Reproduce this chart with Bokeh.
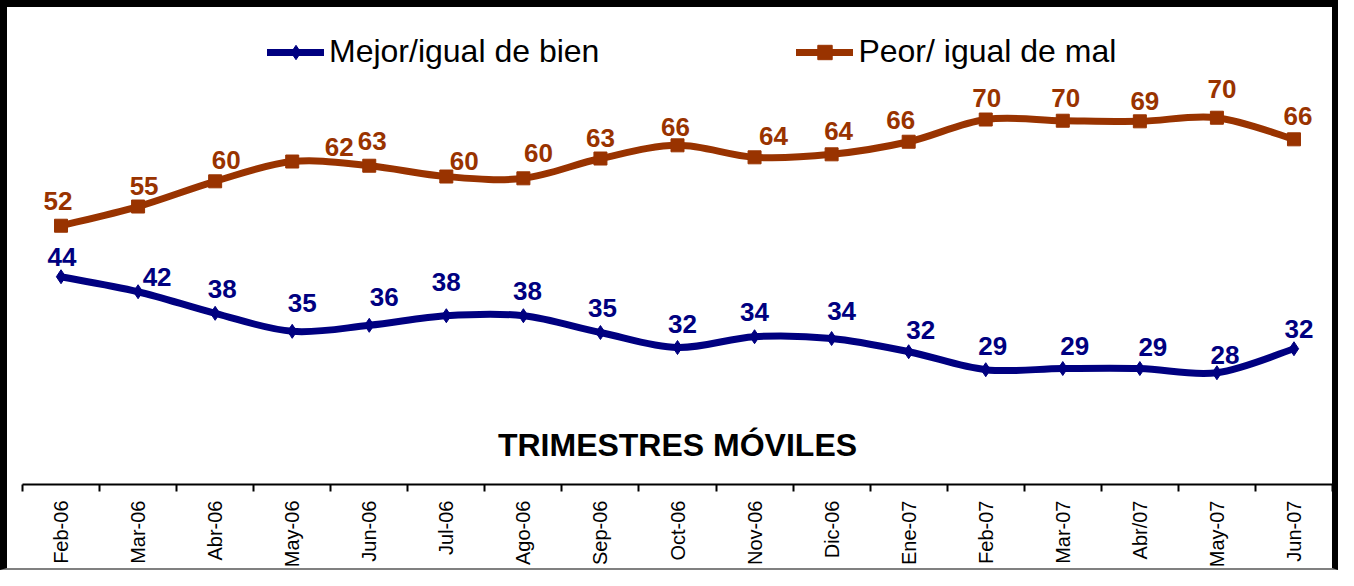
import numpy as np
from bokeh.plotting import figure
from bokeh.models import Range1d, FixedTicker, Legend, LegendItem, Label, ColumnDataSource
from bokeh.core.properties import value
from bokeh.embed import file_html
from bokeh.resources import INLINE

categories = ["Feb-06", "Mar-06", "Abr-06", "May-06", "Jun-06", "Jul-06", "Ago-06", "Sep-06",
              "Oct-06", "Nov-06", "Dic-06", "Ene-07", "Feb-07", "Mar-07", "Abr/07", "May-07", "Jun-07"]
mejor = [43.8, 41.3, 37.7, 34.7, 35.7, 37.3, 37.3, 34.5, 32.0, 33.8, 33.5, 31.3, 28.3, 28.5, 28.5, 27.8, 31.8]
peor = [52.3, 55.5, 59.7, 63.0, 62.3, 60.5, 60.2, 63.5, 65.7, 63.7, 64.2, 66.3, 70.0, 69.8, 69.7, 70.3, 66.7]
mejor_labels = ["44", "42", "38", "35", "36", "38", "38", "35", "32", "34", "34", "32", "29", "29", "29", "28", "32"]
peor_labels = ["52", "55", "60", "62", "63", "60", "60", "63", "66", "64", "64", "66", "70", "70", "69", "70", "66"]

# label offsets in screen pixels (style)
peor_dx = [-3, 6, 11, 47, 3, 18, 15, 0, -2, 19, 7, -8, 1, 3, 5, 5, 4]
peor_dy = [-25, -21, -21, -15, -25, -16, -25, -21, -18, -21, -23, -22, -22, -23, -20, -29, -23]
mejor_dx = [1, 19, 7, 10, 15, 0, 4, 2, 5, 0, 10, 12, 7, 12, 13, 8, 5]
mejor_dy = [-20, -15, -24, -28, -28, -34, -25, -25, -24, -25, -28, -22, -24, -23, -22, -18, -20]

BLUE = "#000080"
BROWN = "#993300"
FONT = "Liberation Sans"

xs = np.arange(len(categories), dtype=float)


def smooth_segments(x, y, t=1.0 / 6.0):
    x = np.asarray(x, float)
    y = np.asarray(y, float)
    n = len(x)
    xp = np.concatenate([[x[0]], x, [x[-1]]])
    yp = np.concatenate([[y[0]], y, [y[-1]]])
    return dict(
        x0=xp[1:n], y0=yp[1:n], x1=xp[2:n + 1], y1=yp[2:n + 1],
        cx0=xp[1:n] + (xp[2:n + 1] - xp[0:n - 1]) * t,
        cy0=yp[1:n] + (yp[2:n + 1] - yp[0:n - 1]) * t,
        cx1=xp[2:n + 1] - (xp[3:n + 2] - xp[1:n]) * t,
        cy1=yp[2:n + 1] - (yp[3:n + 2] - yp[1:n]) * t,
    )


p = figure(width=1338, height=570, output_backend="svg", toolbar_location=None,
           x_range=Range1d(-0.5, len(categories) - 0.5), y_range=Range1d(9.17, 86.67),
           y_axis_location=None,
           min_border_left=15, min_border_right=13, min_border_top=12, min_border_bottom=93)
p.styles = {"border-left": "7px solid black", "border-top": "7px solid black",
            "border-right": "6px solid black", "border-bottom": "2px solid #808080"}
p.outline_line_color = None
p.grid.visible = False
p.background_fill_color = "white"
p.border_fill_color = "white"

# x axis: labels at category centres, tick marks between categories
xa = p.xaxis[0]
xa.ticker = FixedTicker(ticks=list(xs), minor_ticks=list(np.arange(-0.5, len(categories), 1.0)))
xa.major_label_overrides = {int(i): c for i, c in enumerate(categories)}
xa.major_tick_line_color = None
xa.minor_tick_line_color = "black"
xa.minor_tick_line_width = 2
xa.minor_tick_out = 7
xa.minor_tick_in = 0
xa.axis_line_color = "black"
xa.axis_line_width = 2
xa.major_label_orientation = np.pi / 2
xa.major_label_standoff = 9
xa.major_label_text_font = FONT
xa.major_label_text_font_size = "20px"
xa.major_label_text_color = "black"

bm = smooth_segments(xs, mejor)
bp = smooth_segments(xs, peor)

rb = p.bezier(source=ColumnDataSource(bm), x0="x0", y0="y0", x1="x1", y1="y1",
              cx0="cx0", cy0="cy0", cx1="cx1", cy1="cy1",
              line_color=BLUE, line_width=7, line_cap="round")
ro = p.bezier(source=ColumnDataSource(bp), x0="x0", y0="y0", x1="x1", y1="y1",
              cx0="cx0", cy0="cy0", cx1="cx1", cy1="cy1",
              line_color=BROWN, line_width=7, line_cap="round")

sb = p.scatter(xs, mejor, marker="diamond", size=14, color=BLUE)
so = p.scatter(xs, peor, marker="square", size=13, color=BROWN)

src_b = ColumnDataSource(dict(x=xs, y=mejor, t=mejor_labels, dx=mejor_dx, dy=mejor_dy))
src_o = ColumnDataSource(dict(x=xs, y=peor, t=peor_labels, dx=peor_dx, dy=peor_dy))
p.text(x="x", y="y", text="t", x_offset="dx", y_offset="dy", source=src_b,
       text_font=value(FONT), text_font_style="bold", text_font_size="26px",
       text_color=BLUE, text_align="center", text_baseline="middle")
p.text(x="x", y="y", text="t", x_offset="dx", y_offset="dy", source=src_o,
       text_font=value(FONT), text_font_style="bold", text_font_size="26px",
       text_color=BROWN, text_align="center", text_baseline="middle")

p.add_layout(Label(x=8, y=15.8, text="TRIMESTRES MÓVILES", text_font=FONT,
                   text_font_style="bold", text_font_size="32px", text_color="black",
                   text_align="center", text_baseline="middle"))

legend = Legend(items=[LegendItem(label="Mejor/igual de bien", renderers=[rb, sb]),
                       LegendItem(label="Peor/ igual de mal", renderers=[ro, so])],
                orientation="horizontal", location=(245, 414),
                glyph_width=57, glyph_height=36, label_height=36, label_standoff=5,
                spacing=197, padding=0, margin=0, border_line_color=None,
                background_fill_alpha=0, label_text_font=FONT,
                label_text_font_size="32px", label_text_color="black")
p.add_layout(legend)

open("out.html", "w").write(file_html(p, INLINE))
